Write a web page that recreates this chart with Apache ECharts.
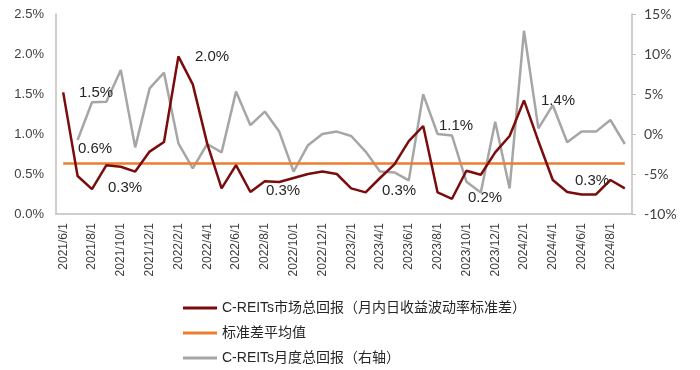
<!DOCTYPE html>
<html><head><meta charset="utf-8">
<script src="https://cdn.jsdelivr.net/npm/echarts@6/dist/echarts.min.js"></script>
<style>html,body{margin:0;padding:0;background:#fff}#c{width:700px;height:370px}</style>
</head><body><div id="c"></div>
<script>
// 40 monthly categories 2021/6 .. 2024/9
const categories = [];
for (let y = 2021, m = 6; !(y === 2024 && m === 10); ) {
  categories.push(y + '/' + m + '/1');
  m++; if (m > 12) { m = 1; y++; }
}
const volatility = [1.52,0.475,0.31,0.61,0.59,0.53,0.78,0.90,1.97,1.62,
  0.88,0.32,0.61,0.275,0.41,0.40,0.45,0.50,0.53,0.50,
  0.32,0.27,0.45,0.62,0.91,1.10,0.27,0.19,0.54,0.49,
  0.77,0.975,1.42,0.91,0.425,0.275,0.245,0.245,0.425,0.32];
const avgValue = 0.63;
const avgLine = categories.map(() => avgValue);
const monthlyReturn = [null,-0.75,3.96,4.04,8.0,-1.67,5.7,7.67,-1.17,-4.3,
  -1.25,-2.3,5.3,1.1,2.8,0.3,-4.7,-1.4,0.0,0.3,
  -0.25,-2.2,-4.7,-4.8,-5.8,4.96,0.0,-0.2,-5.96,-7.3,
  1.54,-6.8,12.9,0.7,3.6,-1.04,0.3,0.3,1.75,-1.25];
const seriesNames = ['C-REITs市场总回报（月内日收益波动率标准差）','标准差平均值','C-REITs月度总回报（右轴）'];
const annotations = [
  {t:'1.5%', x:96, y:93}, {t:'0.6%', x:95, y:149}, {t:'0.3%', x:125, y:188},
  {t:'2.0%', x:212, y:57}, {t:'0.3%', x:283, y:191}, {t:'0.3%', x:399, y:191},
  {t:'1.1%', x:456, y:126}, {t:'0.2%', x:485, y:198}, {t:'1.4%', x:558, y:101},
  {t:'0.3%', x:592, y:181}
];

const chart = echarts.init(document.getElementById('c'));
chart.setOption({
  animation: false,
  backgroundColor: '#fff',
  grid: {left: 56, right: 68, top: 14, bottom: 156},
  legend: {
    orient: 'vertical', left: 178, top: 296, itemWidth: 34, itemHeight: 3, itemGap: 11,
    icon: 'rect',
    textStyle: {fontSize: 14, color: '#262626', fontFamily: 'Liberation Sans, Noto Sans CJK SC'},
    data: seriesNames
  },
  xAxis: {
    type: 'category', data: categories, boundaryGap: true,
    axisLine: {lineStyle: {color: '#bfbfbf', width: 1.5}},
    axisTick: {interval: 1, length: 4, lineStyle: {color: '#bfbfbf'}},
    axisLabel: {interval: 1, rotate: 90, fontSize: 12, color: '#404040', margin: 9, fontFamily: 'Liberation Sans'}
  },
  yAxis: [{
    type: 'value', min: 0, max: 2.5, interval: 0.5,
    axisLine: {show: true, lineStyle: {color: '#bfbfbf', width: 1.5}},
    axisTick: {show: false}, splitLine: {show: false},
    axisLabel: {formatter: v => v.toFixed(1) + '%', fontSize: 13, color: '#404040', margin: 12, fontFamily: 'Liberation Sans'}
  }, {
    type: 'value', min: -10, max: 15, interval: 5, position: 'right',
    axisLine: {show: true, lineStyle: {color: '#bfbfbf', width: 1.5}},
    axisTick: {show: true, length: 4, lineStyle: {color: '#bfbfbf'}}, splitLine: {show: false},
    axisLabel: {formatter: v => v + '%', fontSize: 14, color: '#404040', margin: 12, fontFamily: 'Lato'}
  }],
  series: [{
    name: seriesNames[2], type: 'line', yAxisIndex: 1, data: monthlyReturn,
    symbol: 'none', lineStyle: {color: '#a6a6a6', width: 2.5}, itemStyle: {color: '#a6a6a6'}, z: 1
  }, {
    name: seriesNames[1], type: 'line', yAxisIndex: 0, data: avgLine,
    symbol: 'none', lineStyle: {color: '#ed7d31', width: 2.5}, itemStyle: {color: '#ed7d31'}, z: 2
  }, {
    name: seriesNames[0], type: 'line', yAxisIndex: 0, data: volatility,
    symbol: 'none', lineStyle: {color: '#7b0c0c', width: 2.5}, itemStyle: {color: '#7b0c0c'}, z: 3
  }],
  graphic: annotations.map(a => ({
    type: 'text', x: a.x, y: a.y, z: 10,
    style: {text: a.t, fill: '#262626', font: '15px Liberation Sans', align: 'center', verticalAlign: 'middle'}
  }))
});
</script></body></html>
